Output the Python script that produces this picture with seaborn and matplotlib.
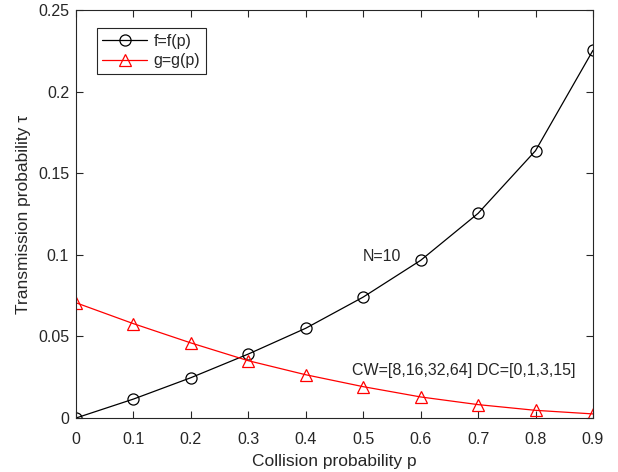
import numpy as np
import pandas as pd
import seaborn as sns
import matplotlib.pyplot as plt
from matplotlib.ticker import FuncFormatter

# collision probability p
p_vals = [0, 0.1, 0.2, 0.3, 0.4, 0.5, 0.6, 0.7, 0.8, 0.9]
# tau = f(p)
f_vals = [0.0, 0.0116, 0.0247, 0.0392, 0.0550, 0.0741, 0.0966, 0.1254, 0.1638, 0.2253]
# tau = g(p)
g_vals = [0.0706, 0.0578, 0.0460, 0.0351, 0.0265, 0.0192, 0.0129, 0.0082, 0.0047, 0.0025]

x_ticks = [0, 0.1, 0.2, 0.3, 0.4, 0.5, 0.6, 0.7, 0.8, 0.9]
y_ticks = [0, 0.05, 0.1, 0.15, 0.2, 0.25]

sns.set_style('ticks')
plt.rcParams['font.family'] = ['Liberation Sans', 'DejaVu Sans']
plt.rcParams['font.size'] = 11.5

df = pd.DataFrame({'p': p_vals, 'f': f_vals, 'g': g_vals})

fig = plt.figure(figsize=(6.18, 4.72), dpi=100)
ax = fig.add_axes([0.123, 0.1144, 0.8365, 0.8644])

sns.lineplot(data=df, x='p', y='f', ax=ax, color='black', linewidth=0.9,
             marker='o', markersize=8, markerfacecolor='none',
             markeredgecolor='black', markeredgewidth=0.9, label='f=f(p)')
sns.lineplot(data=df, x='p', y='g', ax=ax, color='red', linewidth=0.9,
             marker='^', markersize=9, markerfacecolor='none',
             markeredgecolor='red', markeredgewidth=0.9, label='g=g(p)')

ax.text(0.5, 0.0987, 'N=10', fontsize=11.5, va='center', ha='left', color='#262626')
ax.text(0.48, 0.0294, 'CW=[8,16,32,64] DC=[0,1,3,15]', fontsize=11.5,
        va='center', ha='left', color='#262626')

ax.set_xlim(0, 0.9)
ax.set_ylim(0, 0.25)
ax.set_xticks(x_ticks)
ax.set_yticks(y_ticks)
fmt = FuncFormatter(lambda v, pos: f'{v:g}')
ax.xaxis.set_major_formatter(fmt)
ax.yaxis.set_major_formatter(fmt)
ax.tick_params(direction='in', top=True, right=True, length=5, width=0.8,
               labelsize=11.5, colors='#262626', labelcolor='#262626', pad=5)
ax.tick_params(axis='x', pad=10)
for s in ax.spines.values():
    s.set_color('#262626')
    s.set_linewidth(0.8)

ax.set_xlabel('Collision probability p', fontsize=12.5, color='#262626', labelpad=5)
ax.set_ylabel('Transmission probability τ', fontsize=12.5, color='#262626', labelpad=5)

leg = ax.legend(loc='upper left', bbox_to_anchor=(0.04, 0.956), frameon=True,
                fancybox=False, edgecolor='#262626', framealpha=1,
                handlelength=2.8, handletextpad=0.4, borderaxespad=0,
                borderpad=0.35, labelspacing=0.3, fontsize=11.5)
leg.get_frame().set_linewidth(0.8)

fig.savefig('out.png', dpi=100)
